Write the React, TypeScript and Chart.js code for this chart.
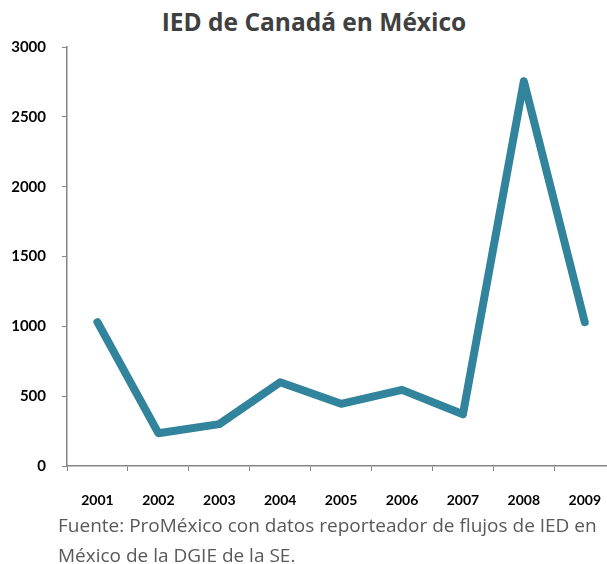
import React, { useEffect, useRef } from "react";
import { Chart, registerables } from "chart.js";

Chart.register(...registerables);

const years = ["2001", "2002", "2003", "2004", "2005", "2006", "2007", "2008", "2009"];
const iedValues = [1030, 235, 300, 600, 445, 545, 370, 2755, 1030];
const yTicks = [0, 500, 1000, 1500, 2000, 2500, 3000];
const titleText = "IED de Canadá en México";
const sourceLines = [
  "Fuente: ProMéxico con datos reporteador de flujos de IED en",
  "México de la DGIE de la SE.",
];

export default function App() {
  const ref = useRef<HTMLCanvasElement | null>(null);
  useEffect(() => {
    if (!ref.current) return;
    const chart = new Chart(ref.current, {
      type: "line",
      data: {
        labels: years,
        datasets: [
          {
            data: iedValues,
            borderColor: "#31849B",
            borderWidth: 8,
            pointRadius: 0,
            tension: 0,
            borderJoinStyle: "round",
            borderCapStyle: "round",
          },
        ],
      },
      options: {
        responsive: false,
        animation: false,
        devicePixelRatio: 1,
        layout: { padding: { left: 0, right: 0, top: 47, bottom: 0 } },
        plugins: {
          legend: { display: false },
          tooltip: { enabled: false },
          title: { display: false },
        },
        scales: {
          x: {
            offset: true,
            afterFit: (axis: any) => {
              axis.height = 46;
            },
            grid: { offset: true, drawOnChartArea: false, drawTicks: true, tickLength: 5, color: "#868686" },
            border: { color: "#868686", width: 1.5 },
            ticks: { color: "#000", font: { family: "Lato", size: 14, weight: "bold" }, padding: 21, maxRotation: 0 },
          },
          y: {
            min: 0,
            max: 3000,
            afterBuildTicks: (axis: any) => {
              axis.ticks = yTicks.map((v) => ({ value: v }));
            },
            afterFit: (axis: any) => {
              axis.width = 67;
            },
            grid: { drawOnChartArea: false, drawTicks: true, tickLength: 5, color: "#868686" },
            border: { color: "#868686", width: 1.5 },
            ticks: {
              color: "#000",
              font: { family: "Lato", size: 15, weight: "bold" },
              padding: 16,
              callback: (v: any) => String(v),
            },
          },
        },
      },
    });
    return () => chart.destroy();
  }, []);
  return (
    <div style={{ position: "fixed", left: 0, top: 0, width: 607, height: 564, background: "#fff", overflow: "hidden" }}>
      <div
        style={{
          position: "absolute",
          left: 0,
          width: 628,
          top: 4,
          textAlign: "center",
          fontFamily: "Open Sans",
          fontWeight: "bold",
          fontSize: 24.5,
          lineHeight: "36px",
          color: "#404040",
          whiteSpace: "nowrap",
        }}
      >
        {titleText}
      </div>
      <canvas ref={ref} width={622} height={512} style={{ position: "absolute", left: 0, top: 0 }} />
      <div
        style={{
          position: "absolute",
          left: 58,
          top: 510,
          fontFamily: "Open Sans",
          fontSize: 19,
          lineHeight: "30px",
          color: "#595959",
          whiteSpace: "nowrap",
        }}
      >
        {sourceLines.map((l, i) => (
          <div key={i}>{l}</div>
        ))}
      </div>
    </div>
  );
}
